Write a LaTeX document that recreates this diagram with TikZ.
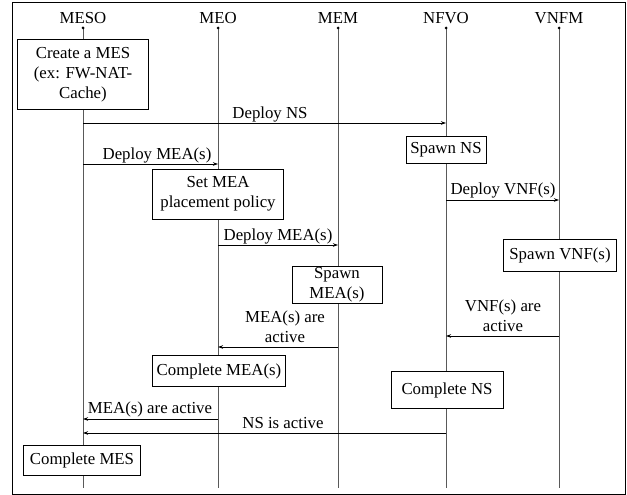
\documentclass[tikz,border=0pt]{standalone}
\usepackage{fontspec}
\setmainfont{Liberation Serif}
\usetikzlibrary{arrows.meta}
\begin{document}
\begin{tikzpicture}[x=1pt,y=-1pt,
  every node/.style={font=\fontsize{16.8}{20}\selectfont, inner sep=0pt},
  head/.style={anchor=base},
  life/.style={draw=black!65, line width=1pt},
  dotmark/.style={circle, fill=black, minimum size=3pt, inner sep=0pt},
  proc/.style={draw=black, line width=1pt, fill=white, align=center},
  msg/.style={line width=0.8pt, -{Stealth[length=5pt,width=3.5pt]}},
  lab/.style={anchor=base, align=center}
]
\useasboundingbox (0,0) rectangle (627,495);
\draw[line width=1pt] (12,3) rectangle (625,494);

% heads
\node[head] (hMESO) at (83,24) {MESO};
\node[head] (hMEO)  at (218,24) {MEO};
\node[head] (hMEM)  at (338,24) {MEM};
\node[head] (hNFVO) at (446,24) {NFVO};
\node[head] (hVNFM) at (559,24) {VNFM};

\foreach \n/\x in {MESO/83, MEO/218, MEM/338, NFVO/446, VNFM/559}{
  \coordinate (t\n) at (\x,28);
  \coordinate (b\n) at (\x,488);
  \draw[life] (t\n) -- (b\n);
  \node[dotmark] (d\n) at (t\n) {};
}

% messages
\coordinate (m1s) at (83,123);  \coordinate (m1e) at (446,123);
\draw[msg] (m1s) -- (m1e);
\node[lab] (l1) at (270,118) {Deploy NS};

\coordinate (m2s) at (83,164);  \coordinate (m2e) at (218,164);
\draw[msg] (m2s) -- (m2e);
\node[lab] (l2) at (157,159) {Deploy MEA(s)};

\coordinate (m3s) at (446,200); \coordinate (m3e) at (559,200);
\draw[msg] (m3s) -- (m3e);
\node[lab] (l3) at (503,194) {Deploy VNF(s)};

\coordinate (m4s) at (218,245); \coordinate (m4e) at (338,245);
\draw[msg] (m4s) -- (m4e);
\node[lab] (l4) at (278,240) {Deploy MEA(s)};

\coordinate (m5s) at (559,336); \coordinate (m5e) at (446,336);
\draw[msg] (m5s) -- (m5e);
\node[lab] (l5) at (503,331) {VNF(s) are\\active};

\coordinate (m6s) at (338,347); \coordinate (m6e) at (218,347);
\draw[msg] (m6s) -- (m6e);
\node[lab] (l6) at (285,342) {MEA(s) are\\active};

\coordinate (m7s) at (218,419); \coordinate (m7e) at (83,419);
\draw[msg] (m7s) -- (m7e);
\node[lab] (l7) at (150,413) {MEA(s) are active};

\coordinate (m8s) at (446,433); \coordinate (m8e) at (83,433);
\draw[msg] (m8s) -- (m8e);
\node[lab] (l8) at (283,428) {NS is active};

% process boxes
\node[proc, minimum width=131pt, minimum height=70pt] (pCreate) at (83,75) {Create a MES\\(ex: FW-NAT-\\Cache)};
\node[proc, minimum width=131pt, minimum height=50pt] (pSet) at (218,194) {Set MEA\\placement policy};
\node[proc, minimum width=80pt, minimum height=27pt] (pSpawnNS) at (446,150) {Spawn NS};
\node[proc, minimum width=113pt, minimum height=32pt] (pSpawnVNF) at (560,255) {Spawn VNF(s)};
\node[proc, minimum width=90pt, minimum height=37pt] (pSpawnMEA) at (337,285) {Spawn\\MEA(s)};
\node[proc, minimum width=133pt, minimum height=31pt] (pCompMEA) at (219,371) {Complete MEA(s)};
\node[proc, minimum width=112pt, minimum height=37pt] (pCompNS) at (447,390) {Complete NS};
\node[proc, minimum width=117pt, minimum height=30pt] (pCompMES) at (82,460) {Complete MES};
\end{tikzpicture}
\end{document}
